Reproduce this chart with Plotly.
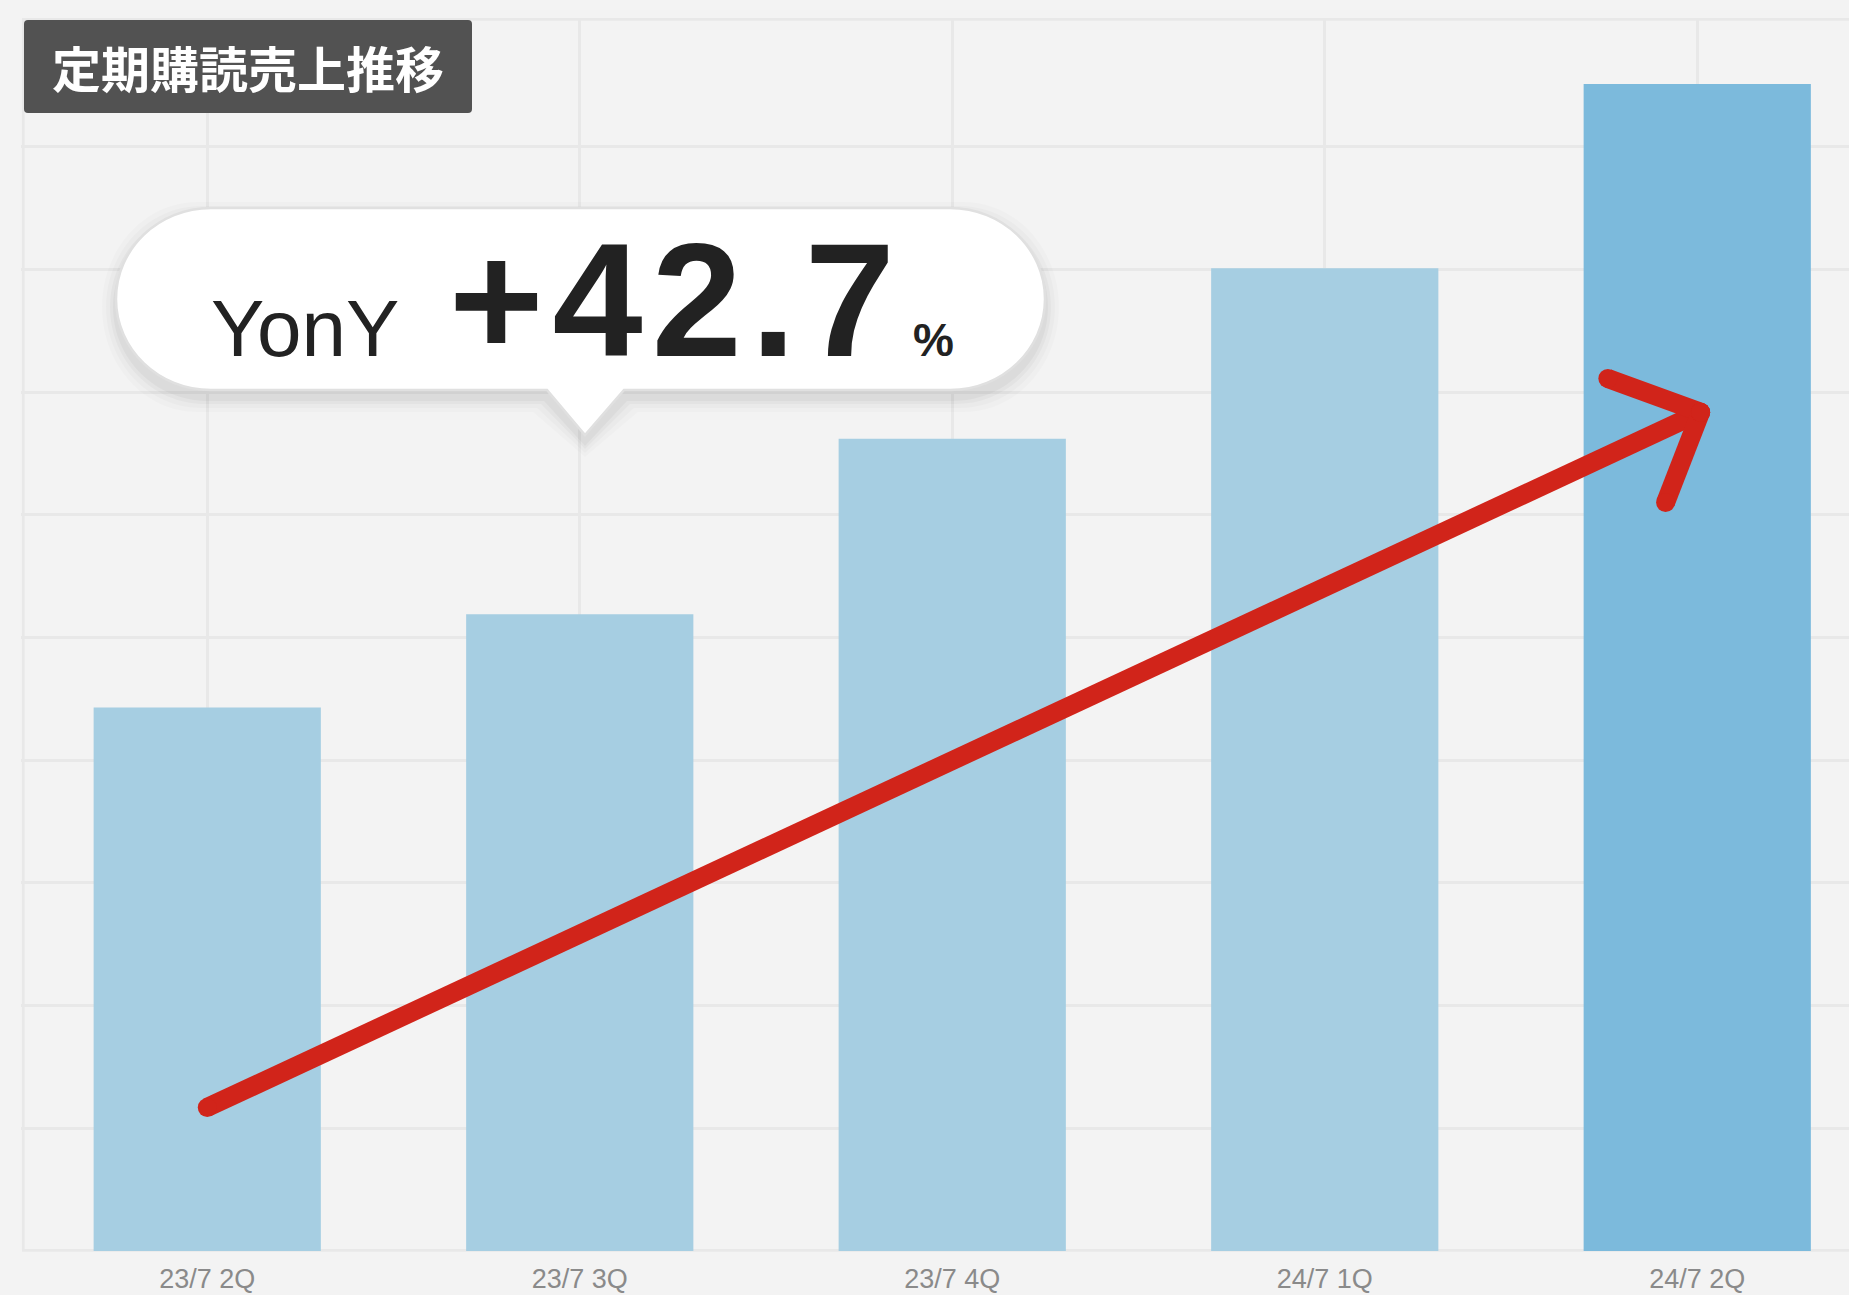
import plotly.graph_objects as go

# ---------------- data ----------------
categories = ["23/7 2Q", "23/7 3Q", "23/7 4Q", "24/7 1Q", "24/7 2Q"]
sales = [4.43, 5.19, 6.62, 8.01, 9.51]
bar_colors = ["#a6cee2", "#a6cee2", "#a6cee2", "#a6cee2", "#7cbadc"]
grid_values = [0, 1, 2, 3, 4, 5, 6, 7, 8, 9]

title_text = "定期購読売上推移"
yoy_label = "YonY"
yoy_value = "+42.7"
yoy_unit = "%"

# trend arrow (category index, value units)
arrow_x = [0.0, 4.009]
arrow_y = [1.17, 6.836]
arrow_head_x = [3.760, 4.009, 3.915]
arrow_head_y = [7.111, 6.836, 6.10]

# ---------------- layout helpers ----------------
W, H = 1849, 1295
ML, MR, MT, MB = 21, 0, 19, 44
PW = W - ML - MR
PH = H - MT - MB
PX_PER_CAT = 372.5
PX_PER_UNIT = 122.7


def px(x):
    return (x - ML) / PW


def py(y):
    return (H - MB - y) / PH


def pt(x, y):
    return f"{px(x):.6f},{py(y):.6f}"


def bubble_path(L, R, T, B, rx, base_l, base_r, tip_x, tip_y, d=0.0, dy=0.0):
    L -= d; R += d; T -= d; B += d
    T += dy; B += dy; tip_y += dy + d
    ry = (B - T) / 2.0
    k = 0.5523
    my = (T + B) / 2.0
    xl, xr = L + rx, R - rx
    p = "M " + pt(xl, T)
    p += " L " + pt(xr, T)
    p += " C " + pt(xr + k * rx, T) + " " + pt(R, my - k * ry) + " " + pt(R, my)
    p += " C " + pt(R, my + k * ry) + " " + pt(xr + k * rx, B) + " " + pt(xr, B)
    p += " L " + pt(base_r + d, B)
    p += " L " + pt(tip_x, tip_y)
    p += " L " + pt(base_l - d, B)
    p += " L " + pt(xl, B)
    p += " C " + pt(xl - k * rx, B) + " " + pt(L, my + k * ry) + " " + pt(L, my)
    p += " C " + pt(L, my - k * ry) + " " + pt(xl - k * rx, T) + " " + pt(xl, T)
    p += " Z"
    return p


def round_rect(L, R, T, B, r):
    p = "M " + pt(L + r, T)
    p += " L " + pt(R - r, T)
    p += " Q " + pt(R, T) + " " + pt(R, T + r)
    p += " L " + pt(R, B - r)
    p += " Q " + pt(R, B) + " " + pt(R - r, B)
    p += " L " + pt(L + r, B)
    p += " Q " + pt(L, B) + " " + pt(L, B - r)
    p += " L " + pt(L, T + r)
    p += " Q " + pt(L, T) + " " + pt(L + r, T)
    p += " Z"
    return p


fig = go.Figure()

fig.add_trace(go.Bar(
    x=list(range(len(categories))),
    y=sales,
    marker=dict(color=bar_colors, line=dict(width=0)),
    hoverinfo="skip",
))

RED = "#d1241a"
LW = 19
seg_x = [arrow_x[0], arrow_x[1], None,
         arrow_head_x[1], arrow_head_x[0], None,
         arrow_head_x[1], arrow_head_x[2]]
seg_y = [arrow_y[0], arrow_y[1], None,
         arrow_head_y[1], arrow_head_y[0], None,
         arrow_head_y[1], arrow_head_y[2]]
fig.add_trace(go.Scatter(
    x=seg_x, y=seg_y, mode="lines+markers", connectgaps=False,
    line=dict(color=RED, width=LW),
    marker=dict(color=RED, size=LW, line=dict(width=0)),
    hoverinfo="skip",
))

GRID = "#e8e8e8"
fig.update_xaxes(
    tickmode="array",
    tickvals=list(range(len(categories))),
    ticktext=categories,
    range=[-0.5, -0.5 + PW / PX_PER_CAT],
    showgrid=True, gridcolor=GRID, gridwidth=2.5,
    showline=False,
    layer="below traces",
    zeroline=False,
    ticks="",
    automargin=False,
    tickfont=dict(family="Liberation Sans, Arial, sans-serif", size=27, color="#8a8a8a"),
    ticklabelstandoff=9,
    fixedrange=True,
)
fig.update_yaxes(
    range=[0, PH / PX_PER_UNIT],
    tickmode="array", tickvals=grid_values,
    showgrid=True, gridcolor=GRID, gridwidth=2.5,
    showline=False,
    layer="below traces",
    zeroline=False,
    showticklabels=False,
    ticks="",
    automargin=False,
    fixedrange=True,
)

shapes = []
# frame lines (left, top, bottom)
for x0, y0, x1, y1 in [(23.3, 19.3, 23.3, 1250.3), (22, 19.3, W, 19.3), (22, 1250.3, W, 1250.3)]:
    shapes.append(dict(type="line", xref="paper", yref="paper", layer="below",
                       x0=px(x0), y0=py(y0), x1=px(x1), y1=py(y1),
                       line=dict(color=GRID, width=2.7)))
# bubble shadow
for d, op in [(14, 0.016), (10, 0.02), (6, 0.026), (3, 0.032)]:
    shapes.append(dict(
        type="path", xref="paper", yref="paper", layer="above",
        path=bubble_path(116, 1045, 208, 390, 95, 547, 624, 585, 435, d=d, dy=8),
        fillcolor=f"rgba(0,0,0,{op})", line=dict(width=0),
    ))
shapes.append(dict(
    type="path", xref="paper", yref="paper", layer="above",
    path=bubble_path(116, 1045, 208, 390, 95, 547, 624, 585, 435),
    fillcolor="#ffffff", line=dict(color="#e0e0e0", width=2.5),
))
# title box
shapes.append(dict(
    type="path", xref="paper", yref="paper", layer="above",
    path=round_rect(24, 472, 20, 113, 4),
    fillcolor="#525252", line=dict(width=0),
))

annotations = [
    dict(text=title_text, x=px(248), y=py(66.5), xref="paper", yref="paper",
         xanchor="center", yanchor="middle", showarrow=False,
         font=dict(family="Noto Sans CJK JP", size=49, color="#ffffff", weight="bold")),
    dict(text=yoy_label, x=px(305), y=py(328.3), xref="paper", yref="paper",
         xanchor="center", yanchor="middle", showarrow=False,
         font=dict(family="Liberation Sans, Arial, sans-serif", size=80, color="#222222")),
    dict(text='<span style="letter-spacing:9px">' + yoy_value + '</span>',
         x=px(676), y=py(299), xref="paper", yref="paper",
         xanchor="center", yanchor="middle", showarrow=False,
         font=dict(family="Liberation Sans, Arial, sans-serif", size=162, color="#222222", weight="bold")),
    dict(text=yoy_unit, x=px(933), y=py(339.5), xref="paper", yref="paper",
         xanchor="center", yanchor="middle", showarrow=False,
         font=dict(family="Liberation Sans, Arial, sans-serif", size=46, color="#222222", weight="bold")),
]

fig.update_layout(
    width=W, height=H,
    margin=dict(l=ML, r=MR, t=MT, b=MB, pad=0),
    paper_bgcolor="#f3f3f3",
    plot_bgcolor="#f3f3f3",
    bargap=0.39,
    showlegend=False,
    shapes=shapes,
    annotations=annotations,
)

fig.write_html(
    "out.html",
    config={"displayModeBar": False},
    post_script="document.body.style.margin='0';document.body.style.overflow='hidden';",
)
